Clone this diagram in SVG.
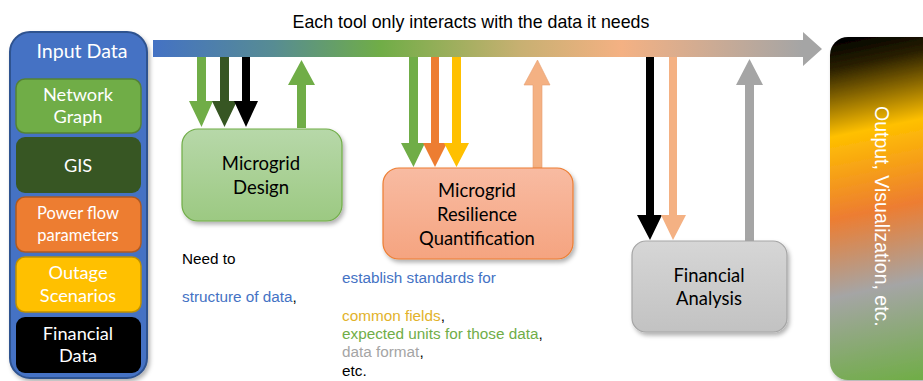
<svg xmlns="http://www.w3.org/2000/svg" width="923" height="381" viewBox="0 0 923 381">
<style>
.lbl{font-family:Lato,"Liberation Sans",sans-serif;text-anchor:middle}
.w{fill:#ffffff}
.k{fill:#000000}
.note{font-family:"Liberation Sans",Arial,sans-serif;font-size:15.3px}
</style>
<defs>
<linearGradient id="barG" gradientUnits="userSpaceOnUse" x1="153" y1="0" x2="822" y2="0">
<stop offset="0" stop-color="#4472C4"/>
<stop offset="0.18" stop-color="#578C93"/>
<stop offset="0.34" stop-color="#70AD47"/>
<stop offset="0.55" stop-color="#C8B072"/>
<stop offset="0.70" stop-color="#F4B183"/>
<stop offset="0.97" stop-color="#A5A5A5"/>
</linearGradient>
<linearGradient id="designG" x1="0" y1="0" x2="0" y2="1">
<stop offset="0" stop-color="#B7D8A9"/>
<stop offset="1" stop-color="#9CC982"/>
</linearGradient>
<linearGradient id="resG" x1="0" y1="0" x2="0" y2="1">
<stop offset="0" stop-color="#F8BBA2"/>
<stop offset="1" stop-color="#F5A480"/>
</linearGradient>
<linearGradient id="finG" x1="0" y1="0" x2="0" y2="1">
<stop offset="0" stop-color="#D6D6D6"/>
<stop offset="1" stop-color="#C2C2C2"/>
</linearGradient>
<linearGradient id="outG" gradientUnits="userSpaceOnUse" x1="850" y1="37" x2="920" y2="380">
<stop offset="0" stop-color="#000000"/>
<stop offset="0.08" stop-color="#2A2000"/>
<stop offset="0.27" stop-color="#FFC000"/>
<stop offset="0.50" stop-color="#ED7D31"/>
<stop offset="0.72" stop-color="#A5A5A5"/>
<stop offset="1" stop-color="#70AD47"/>
</linearGradient>
<filter id="sh" x="-10%" y="-10%" width="130%" height="130%">
<feDropShadow dx="2" dy="3" stdDeviation="2" flood-color="#000" flood-opacity="0.3"/>
</filter>
</defs>

<text x="471" y="28" font-family="Liberation Sans,Arial,sans-serif" font-size="17.8" text-anchor="middle" fill="#000">Each tool only interacts with the data it needs</text>

<g id="input-data">
<rect x="10" y="32" width="137" height="346" rx="20" fill="#4472C4" stroke="#2F528F" stroke-width="2" filter="url(#sh)"/>
<text class="lbl w" x="82" y="58" font-size="19.6">Input Data</text>
<g id="network-graph">
<rect x="16" y="79" width="125" height="54" rx="9" fill="#70AD47" stroke="#548235" stroke-width="1.5"/>
<text class="lbl w" x="78" y="101" font-size="18.2">Network</text>
<text class="lbl w" x="78" y="123" font-size="18.2">Graph</text>
</g>
<g id="gis">
<rect x="16" y="137" width="125" height="56" rx="9" fill="#375623"/>
<text class="lbl w" x="78" y="172" font-size="18.2">GIS</text>
</g>
<g id="power-flow">
<rect x="16" y="197" width="125" height="55" rx="9" fill="#ED7D31" stroke="#AE5A21" stroke-width="1.5"/>
<text class="lbl w" x="78" y="219" font-size="16.5">Power flow</text>
<text class="lbl w" x="78" y="241" font-size="16.5">parameters</text>
</g>
<g id="outage">
<rect x="16" y="257" width="125" height="55" rx="9" fill="#FFC000" stroke="#BF9000" stroke-width="1.5"/>
<text class="lbl w" x="78" y="279" font-size="18.2">Outage</text>
<text class="lbl w" x="78" y="302" font-size="18.2">Scenarios</text>
</g>
<g id="financial-data">
<rect x="16" y="317" width="125" height="56" rx="9" fill="#000000"/>
<text class="lbl w" x="78" y="340" font-size="18.2">Financial</text>
<text class="lbl w" x="78" y="362" font-size="18.2">Data</text>
</g>
</g>

<g id="connectors">
<polygon points="153,40 803,40 803,32 822,49 803,66 803,57 153,57" fill="url(#barG)"/>
<polygon points="197,57 206,57 206,101 213,101 201.5,127 189,101 197,101" fill="#70AD47"/>
<polygon points="220,57 229,57 229,101 237,101 224.5,127 212,101 220,101" fill="#375623"/>
<polygon points="242,57 250,57 250,101 258,101 246,127 234,101 242,101" fill="#000000"/>
<polygon points="297,128 306,128 306,85 315,85 301.5,60 288,85 297,85" fill="#70AD47"/>
<polygon points="409,57 418,57 418,143 425,143 413.5,167 401,143 409,143" fill="#70AD47"/>
<polygon points="431,57 439,57 439,143 447,143 435,167 423,143 431,143" fill="#ED7D31"/>
<polygon points="452,57 461,57 461,143 469,143 456.5,167 444,143 452,143" fill="#FFC000"/>
<polygon points="533,168 542,168 542,85 550,85 537.5,60 524,85 533,85" fill="#F4B183" stroke="#E8A070" stroke-width="0.6"/>
<polygon points="646,57 654,57 654,215 662,215 650,240 637,215 646,215" fill="#000000"/>
<polygon points="669,57 677,57 677,215 686,215 673,240 661,215 669,215" fill="#F4B183"/>
<polygon points="745,241 754,241 754,85 763,85 749.5,59 736,85 745,85" fill="#A5A5A5"/>
</g>

<g id="microgrid-design">
<rect x="182" y="129" width="160" height="92" rx="16" fill="url(#designG)" stroke="#70AD47" stroke-width="1.2" filter="url(#sh)"/>
<text class="lbl k" x="261" y="170" font-size="18.5">Microgrid</text>
<text class="lbl k" x="261" y="194" font-size="18.5">Design</text>
</g>

<g id="resilience">
<rect x="383" y="168" width="190" height="91" rx="16" fill="url(#resG)" stroke="#ED7D31" stroke-width="1.2" filter="url(#sh)"/>
<text class="lbl k" x="477" y="197" font-size="18.4">Microgrid</text>
<text class="lbl k" x="477" y="221" font-size="18.4">Resilience</text>
<text class="lbl k" x="477" y="245" font-size="18.4">Quantification</text>
</g>

<g id="financial-analysis">
<rect x="632" y="241" width="155" height="91" rx="14" fill="url(#finG)" stroke="#A5A5A5" stroke-width="1.2" filter="url(#sh)"/>
<text class="lbl k" x="709" y="282" font-size="18.4">Financial</text>
<text class="lbl k" x="709" y="305" font-size="18.4">Analysis</text>
</g>

<g id="output">
<rect x="830" y="37" width="110" height="343" rx="18" fill="url(#outG)" filter="url(#sh)"/>
<text x="875" y="106" transform="rotate(90 875 106)" font-family="Liberation Sans,Arial,sans-serif" font-size="19.5" fill="#ffffff">Output, Visualization, etc.</text>
</g>

<g id="notes" class="note">
<text x="182" y="264" fill="#000">Need to</text>
<text x="182" y="302"><tspan fill="#4472C4">structure of data</tspan><tspan fill="#000">,</tspan></text>
<text x="342" y="283" fill="#4472C4">establish standards for</text>
<text x="342" y="321"><tspan fill="#E2B22A">common fields</tspan><tspan fill="#000">,</tspan></text>
<text x="342" y="339"><tspan fill="#70AD47">expected units for those data</tspan><tspan fill="#000">,</tspan></text>
<text x="342" y="357"><tspan fill="#A5A5A5">data format</tspan><tspan fill="#000">,</tspan></text>
<text x="342" y="376" fill="#000">etc.</text>
</g>
</svg>
